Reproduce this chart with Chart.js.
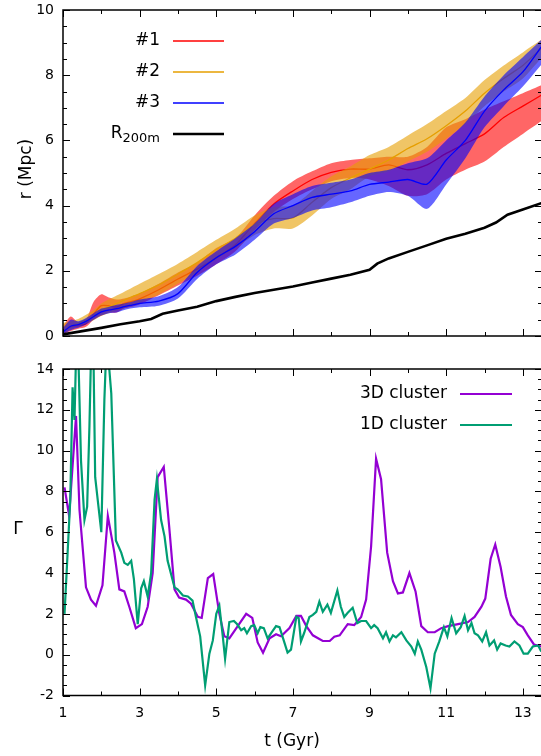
<!DOCTYPE html>
<html>
<head>
<meta charset="utf-8">
<script src="https://cdn.jsdelivr.net/npm/chart.js@4.4.1/dist/chart.umd.min.js"></script>
<style>
  html, body { margin: 0; padding: 0; background: #fff; overflow: hidden; }
  #wrap { position: relative; width: 541px; height: 756px; overflow: hidden; }
  canvas { position: absolute; left: 0; }
  #arriba { top: 0; }
  #abajo { top: 350px; }
</style>
</head>
<body>
<div id="wrap">
  <canvas id="arriba" width="543" height="350"></canvas>
  <canvas id="abajo" width="543" height="406"></canvas>
</div>
<script>
// ============================
// DATOS
// ============================
const tLabels = [1, 3, 5, 7, 9, 11, 13];
const tMinor = [2, 4, 6, 8, 10, 12];
const rLabels = [0, 2, 4, 6, 8, 10];
const gLabels = [-2, 0, 2, 4, 6, 8, 10, 12, 14];

// panel superior: radio (Mpc)
const tGrid = [1.0, 1.2, 1.4, 1.6, 1.8, 2.0, 2.2, 2.4, 2.6, 2.8, 3.0, 3.5, 4.0, 4.5, 5.0, 5.5,
  6.0, 6.5, 7.0, 7.5, 8.0, 8.5, 9.0, 9.5, 10.0, 10.5, 11.0, 11.5, 12.0, 12.5, 13.0, 13.5];

const r1 = [0.15, 0.28, 0.32, 0.38, 0.68, 0.93, 0.93, 0.89, 1.0, 1.06, 1.14, 1.42, 1.75, 2.05, 2.4, 2.8,
  3.45, 4.05, 4.45, 4.8, 5.02, 5.12, 5.12, 5.25, 5.1, 5.25, 5.6, 5.9, 6.2, 6.7, 7.05, 7.4];
const r1Lo = [0.05, 0.15, 0.22, 0.28, 0.5, 0.62, 0.72, 0.72, 0.85, 0.9, 0.97, 1.25, 1.55, 1.85, 2.2, 2.6,
  3.25, 3.8, 4.2, 4.5, 4.75, 4.85, 4.8, 4.6, 4.3, 4.35, 4.8, 5.1, 5.35, 5.8, 6.2, 6.6];
const r1Hi = [0.3, 0.6, 0.42, 0.5, 1.05, 1.28, 1.18, 1.12, 1.15, 1.22, 1.3, 1.6, 1.95, 2.25, 2.7, 3.0,
  3.7, 4.3, 4.75, 5.05, 5.3, 5.4, 5.45, 5.5, 5.5, 5.8, 6.4, 6.65, 6.95, 7.2, 7.45, 7.7];

const r2 = [0.18, 0.3, 0.4, 0.5, 0.62, 0.8, 0.9, 1.0, 1.1, 1.2, 1.3, 1.57, 1.9, 2.25, 2.65, 3.0,
  3.42, 3.6, 3.62, 4.1, 4.55, 4.85, 5.12, 5.4, 5.75, 6.05, 6.45, 6.9, 7.45, 7.9, 8.3, 8.85];
const r2Lo = [0.08, 0.2, 0.28, 0.38, 0.48, 0.62, 0.7, 0.78, 0.85, 0.93, 1.02, 1.27, 1.6, 1.95, 2.35, 2.7,
  3.1, 3.3, 3.3, 3.7, 4.2, 4.5, 4.9, 5.05, 5.35, 5.65, 6.05, 6.5, 7.05, 7.5, 7.9, 8.55];
const r2Hi = [0.4, 0.45, 0.52, 0.65, 0.8, 1.0, 1.12, 1.24, 1.36, 1.48, 1.6, 1.9, 2.22, 2.58, 2.95, 3.3,
  3.7, 3.95, 4.0, 4.45, 4.9, 5.2, 5.55, 5.8, 6.15, 6.5, 6.9, 7.3, 7.85, 8.3, 8.7, 9.1];

const r3 = [0.12, 0.3, 0.35, 0.45, 0.6, 0.74, 0.8, 0.84, 0.9, 0.95, 1.0, 1.07, 1.3, 1.95, 2.4, 2.75,
  3.2, 3.75, 4.0, 4.25, 4.35, 4.45, 4.65, 4.72, 4.8, 4.66, 5.4, 6.0, 6.9, 7.55, 8.1, 8.9];
const r3Lo = [0.05, 0.18, 0.25, 0.35, 0.5, 0.63, 0.7, 0.72, 0.8, 0.85, 0.88, 0.93, 1.15, 1.75, 2.2, 2.5,
  2.95, 3.45, 3.62, 3.85, 3.95, 4.1, 4.3, 4.42, 4.3, 3.9, 4.65, 5.45, 6.4, 7.05, 7.65, 8.35];
const r3Hi = [0.25, 0.5, 0.45, 0.55, 0.7, 0.84, 0.9, 0.96, 1.0, 1.05, 1.12, 1.22, 1.5, 2.15, 2.6, 3.0,
  3.45, 4.05, 4.35, 4.6, 4.7, 4.8, 5.0, 5.1, 5.3, 5.45, 6.0, 6.55, 7.35, 8.0, 8.55, 9.1];

const tR200 = [1.0, 1.5, 2.0, 2.5, 3.0, 3.3, 3.6, 4.0, 4.5, 5.0, 5.5, 6.0, 6.5, 7.0, 7.5, 8.0, 8.5,
  9.0, 9.2, 9.5, 10.0, 10.5, 11.0, 11.5, 12.0, 12.3, 12.6, 13.0, 13.5];
const rR200 = [0.05, 0.15, 0.25, 0.36, 0.45, 0.52, 0.68, 0.78, 0.9, 1.07, 1.2, 1.32, 1.42, 1.52, 1.64, 1.76, 1.88,
  2.03, 2.22, 2.38, 2.58, 2.78, 2.98, 3.14, 3.32, 3.48, 3.72, 3.88, 4.08];

// panel inferior: Gamma
const t3D = [1.04, 1.16, 1.34, 1.43, 1.60, 1.73, 1.86, 2.03, 2.17, 2.34, 2.47, 2.60, 2.73, 2.90, 3.06, 3.21,
  3.34, 3.47, 3.63, 3.77, 3.91, 4.03, 4.21, 4.34, 4.52, 4.62, 4.78, 4.92, 5.08, 5.21, 5.34, 5.56,
  5.78, 5.94, 6.08, 6.22, 6.39, 6.56, 6.69, 6.91, 7.09, 7.21, 7.35, 7.52, 7.78, 7.96, 8.08, 8.22,
  8.43, 8.60, 8.78, 8.91, 9.04, 9.17, 9.30, 9.46, 9.61, 9.74, 9.87, 10.04, 10.20, 10.35, 10.52, 10.70,
  10.87, 11.05, 11.31, 11.57, 11.74, 11.92, 12.02, 12.16, 12.28, 12.42, 12.56, 12.69, 12.87, 13.00,
  13.13, 13.29, 13.48];
const g3D = [8.2, 6.8, 11.7, 7.1, 3.3, 2.7, 2.4, 3.4, 6.8, 5.0, 3.2, 3.1, 2.35, 1.3, 1.5, 2.35,
  4.0, 8.7, 9.2, 6.3, 3.2, 2.8, 2.7, 2.5, 1.85, 1.8, 3.75, 3.95, 2.0, 0.9, 0.8, 1.4,
  2.0, 1.8, 0.6, 0.1, 0.8, 1.0, 0.9, 1.3, 1.9, 1.9, 1.4, 0.95, 0.67, 0.67, 0.88, 0.95,
  1.5, 1.45, 1.85, 2.7, 5.3, 9.6, 8.6, 5.0, 3.6, 3.0, 3.05, 4.0, 3.1, 1.4, 1.1, 1.1,
  1.3, 1.4, 1.5, 1.6, 1.85, 2.35, 2.75, 4.7, 5.4, 4.3, 2.85, 1.95, 1.5, 1.35,
  0.95, 0.5, 0.4];

const t1D = [1.04, 1.11, 1.19, 1.25, 1.30, 1.37, 1.47, 1.56, 1.63, 1.69, 1.77, 1.84, 2.00, 2.08, 2.13, 2.21,
  2.26, 2.38, 2.52, 2.60, 2.69, 2.78, 2.85, 2.95, 3.04, 3.11, 3.21, 3.30, 3.39, 3.45, 3.56, 3.65,
  3.73, 3.91, 3.99, 4.13, 4.26, 4.38, 4.47, 4.58, 4.71, 4.82, 4.91, 5.00, 5.08, 5.17, 5.23, 5.34,
  5.46, 5.54, 5.65, 5.73, 5.80, 5.91, 5.99, 6.08, 6.15, 6.24, 6.34, 6.45, 6.56, 6.65, 6.76, 6.86,
  6.95, 7.09, 7.15, 7.21, 7.29, 7.43, 7.52, 7.61, 7.69, 7.78, 7.90, 7.99, 8.16, 8.25, 8.34, 8.43,
  8.56, 8.68, 8.78, 8.91, 9.04, 9.12, 9.21, 9.35, 9.43, 9.52, 9.61, 9.69, 9.83, 9.96, 10.09, 10.18,
  10.26, 10.35, 10.48, 10.59, 10.70, 10.82, 10.94, 11.03, 11.14, 11.26, 11.38, 11.48, 11.57, 11.66, 11.74, 11.83,
  11.94, 12.04, 12.13, 12.25, 12.33, 12.42, 12.55, 12.65, 12.78, 12.91, 13.02, 13.13, 13.26, 13.40, 13.48];
const g1D = [2.0, 4.6, 7.6, 13.1, 11.5, 17.0, 9.5, 6.6, 7.25, 11.2, 18.0, 8.7, 6.0, 12.5, 15.0, 13.95,
  12.8, 5.6, 5.0, 4.5, 4.4, 4.6, 3.7, 1.5, 3.25, 3.6, 2.85, 4.0, 7.6, 8.6, 6.6, 5.8,
  4.6, 3.3, 3.2, 2.9, 2.85, 2.65, 1.85, 0.9, -1.5, 0.05, 0.7, 2.0, 2.4, 0.9, -0.2, 1.6,
  1.65, 1.5, 1.2, 1.3, 1.05, 1.4, 1.45, 1.05, 1.35, 1.3, 0.8, 1.1, 1.4, 1.35, 0.7, 0.1,
  0.25, 1.85, 1.8, 0.65, 1.05, 1.85, 1.95, 2.1, 2.6, 2.1, 2.45, 2.05, 3.15, 2.35, 1.85, 2.05,
  2.3, 1.55, 1.65, 1.65, 1.3, 1.45, 1.3, 0.8, 1.1, 0.65, 0.95, 0.85, 1.1, 0.7, 0.4, 0.05,
  0.65, 0.25, -0.6, -1.65, 0.05, 0.65, 1.35, 0.9, 1.8, 1.05, 1.35, 1.9, 1.2, 1.55, 1.05, 0.95,
  0.65, 1.1, 0.45, 0.7, 0.25, 0.55, 0.45, 0.4, 0.65, 0.45, 0.05, 0.05, 0.4, 0.45, 0.15];

// leyendas
const leyendaArriba = [
  { texto: "#1", color: "#ff0000", ancho: 1.3 },
  { texto: "#2", color: "#e69f00", ancho: 1.3 },
  { texto: "#3", color: "#0000ff", ancho: 1.3 },
  { texto: "R", sub: "200m", color: "#000000", ancho: 2.6 },
];
const leyendaAbajo = [
  { texto: "3D cluster", color: "#9400d3", ancho: 2.2 },
  { texto: "1D cluster", color: "#009e73", ancho: 2.2 },
];

// ============================
// UTILIDADES
// ============================
const FUENTE = '"DejaVu Sans", "Liberation Sans", sans-serif';

function puntos(ts, vs) {
  return ts.map((t, i) => ({ x: t, y: vs[i] }));
}

function banda(ts, lo, hi, relleno, orden) {
  return [
    { data: puntos(ts, lo), borderWidth: 0, pointRadius: 0, fill: false, order: orden, tension: 0.25 },
    { data: puntos(ts, hi), borderWidth: 0, pointRadius: 0, fill: "-1", backgroundColor: relleno, order: orden - 1, tension: 0.25 },
  ];
}

function linea(ts, vs, color, ancho, orden, tension) {
  return { data: puntos(ts, vs), borderColor: color, borderWidth: ancho, pointRadius: 0, fill: false, order: orden, tension: tension, clip: 0 };
}

// marco con ticks hacia dentro (estilo gnuplot)
const marco = {
  id: "marco",
  afterDraw(chart, args, opts) {
    const { ctx, chartArea: a, scales } = chart;
    const x = scales.x, y = scales.y;
    ctx.save();
    ctx.strokeStyle = "#000";
    ctx.lineWidth = 1;
    ctx.beginPath();
    const tickX = (v, L) => {
      const px = Math.round(x.getPixelForValue(v)) + 0.5;
      ctx.moveTo(px, a.bottom); ctx.lineTo(px, a.bottom - L);
      ctx.moveTo(px, a.top); ctx.lineTo(px, a.top + L);
    };
    const tickY = (v, L) => {
      const py = Math.round(y.getPixelForValue(v)) + 0.5;
      ctx.moveTo(a.left, py); ctx.lineTo(a.left + L, py);
      ctx.moveTo(a.right, py); ctx.lineTo(a.right - L, py);
    };
    tLabels.forEach(v => tickX(v, 7));
    tMinor.forEach(v => tickX(v, 4));
    for (let v = y.min; v <= y.max + 1e-9; v += 0.5) {
      tickY(v, opts.mayores.includes(v) ? 7 : 4);
    }
    ctx.stroke();
    ctx.lineWidth = 1.5;
    ctx.strokeRect(a.left, a.top, a.right - a.left, a.bottom - a.top);
    ctx.restore();
  },
};

const leyenda = {
  id: "leyenda",
  afterDraw(chart, args, opts) {
    const ctx = chart.ctx;
    ctx.save();
    ctx.fillStyle = "#000";
    ctx.textAlign = "right";
    ctx.textBaseline = "middle";
    opts.items.forEach((it, i) => {
      const yy = opts.y0 + i * opts.dy;
      if (it.sub) {
        ctx.font = "13px " + FUENTE;
        const w = ctx.measureText(it.sub).width;
        ctx.fillText(it.sub, opts.derecha, yy + 5);
        ctx.font = "17px " + FUENTE;
        ctx.fillText(it.texto, opts.derecha - w, yy);
      } else {
        ctx.font = "17px " + FUENTE;
        ctx.fillText(it.texto, opts.derecha, yy);
      }
      ctx.strokeStyle = it.color;
      ctx.lineWidth = it.ancho;
      ctx.beginPath();
      ctx.moveTo(opts.desde, yy);
      ctx.lineTo(opts.hasta, yy);
      ctx.stroke();
    });
    ctx.restore();
  },
};

const titulos = {
  id: "titulos",
  afterDraw(chart, args, opts) {
    const ctx = chart.ctx;
    ctx.save();
    ctx.fillStyle = "#000";
    ctx.textAlign = "center";
    ctx.textBaseline = "middle";
    ctx.font = "17px " + FUENTE;
    opts.items.forEach(it => {
      ctx.save();
      ctx.translate(it.x, it.y);
      if (it.rot) ctx.rotate(it.rot);
      ctx.fillText(it.texto, 0, 0);
      ctx.restore();
    });
    ctx.restore();
  },
};

function ejeX(conEtiquetas, alto) {
  return {
    type: "linear",
    min: 1,
    max: 13.5,
    afterBuildTicks: s => { s.ticks = tLabels.map(v => ({ value: v })); },
    ticks: { display: conEtiquetas, font: { family: FUENTE, size: 14 }, color: "#000", padding: 9, maxRotation: 0 },
    grid: { display: false, drawTicks: false },
    border: { display: false },
    afterFit: s => { s.height = alto; s.paddingLeft = 0; s.paddingRight = 0; },
  };
}

function ejeY(min, max, etiquetas) {
  return {
    type: "linear",
    min: min,
    max: max,
    afterBuildTicks: s => { s.ticks = etiquetas.map(v => ({ value: v })); },
    ticks: { font: { family: FUENTE, size: 14 }, color: "#000", padding: 9 },
    grid: { display: false, drawTicks: false },
    border: { display: false },
    afterFit: s => { s.width = 63; s.paddingTop = 0; s.paddingBottom = 0; },
  };
}

// ============================
// PANEL SUPERIOR
// ============================
new Chart(document.getElementById("arriba"), {
  type: "line",
  data: {
    datasets: [
      ...banda(tGrid, r1Lo, r1Hi, "rgba(255,0,0,0.6)", 12),
      linea(tGrid, r1, "#ff0000", 1.3, 10, 0.25),
      ...banda(tGrid, r2Lo, r2Hi, "rgba(230,159,0,0.6)", 9),
      linea(tGrid, r2, "#e69f00", 1.3, 7, 0.25),
      ...banda(tGrid, r3Lo, r3Hi, "rgba(0,0,255,0.6)", 6),
      linea(tGrid, r3, "#0000ff", 1.3, 4, 0.25),
      linea(tR200, rR200, "#000000", 2.6, 0, 0),
    ],
  },
  options: {
    responsive: false,
    animation: false,
    layout: { padding: { top: 10, right: 1, left: 0, bottom: 0 } },
    scales: { x: ejeX(false, 14), y: ejeY(0, 10, rLabels) },
    plugins: {
      legend: { display: false },
      tooltip: { enabled: false },
      marco: { mayores: rLabels },
      leyenda: { items: leyendaArriba, derecha: 160, desde: 173, hasta: 224, y0: 41, dy: 31 },
      titulos: { items: [{ texto: "r (Mpc)", x: 27, y: 169, rot: -Math.PI / 2 }] },
    },
  },
  plugins: [marco, leyenda, titulos],
});

// ============================
// PANEL INFERIOR
// ============================
new Chart(document.getElementById("abajo"), {
  type: "line",
  data: {
    datasets: [
      linea(t3D, g3D, "#9400d3", 2.2, 2, 0),
      linea(t1D, g1D, "#009e73", 2.2, 1, 0),
    ],
  },
  options: {
    responsive: false,
    animation: false,
    layout: { padding: { top: 19, right: 1, left: 0, bottom: 0 } },
    scales: { x: ejeX(true, 60.5), y: ejeY(-2, 14, gLabels) },
    plugins: {
      legend: { display: false },
      tooltip: { enabled: false },
      marco: { mayores: gLabels },
      leyenda: { items: leyendaAbajo, derecha: 447, desde: 460, hasta: 512, y0: 44, dy: 31 },
      titulos: { items: [{ texto: "Γ", x: 18, y: 180 }, { texto: "t (Gyr)", x: 292, y: 392 }] },
    },
  },
  plugins: [marco, leyenda, titulos],
});
</script>
</body>
</html>
